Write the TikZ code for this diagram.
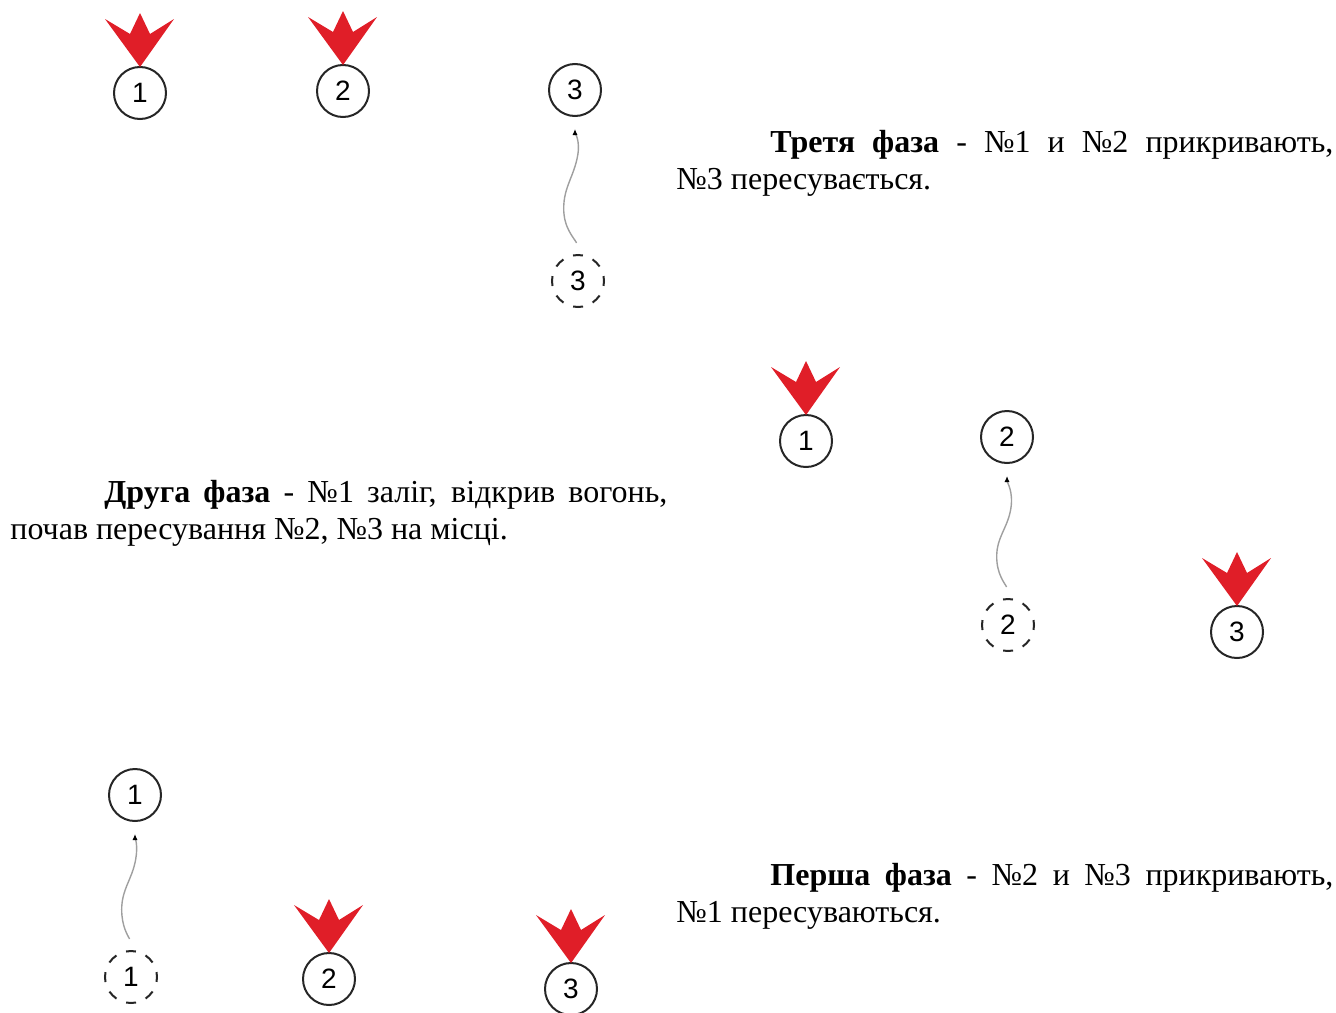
\documentclass[tikz,border=0pt]{standalone}
\usepackage{fontspec}
\setmainfont{Liberation Serif}
\newfontfamily\numfont{Liberation Sans}
\usetikzlibrary{arrows.meta,calc}
\definecolor{firered}{RGB}{224,30,40}

\tikzset{
  soldier/.style={circle,draw=black!85,line width=1pt,minimum size=26pt,inner sep=0pt,
    font=\numfont\fontsize{14}{14}\selectfont},
  oldpos/.style={soldier,dash pattern=on 5pt off 5.2pt,dash phase=2.5pt},
  move/.style={draw=gray!75,line width=0.7pt,
    -{Latex[length=3pt,width=2.6pt,color=black]},shorten <=6.5pt,shorten >=6pt},
  phase/.style={anchor=base west,inner sep=0pt,text width=328.5pt,align=justify,
    font=\fontsize{16}{18.5}\selectfont},
  fire/.pic={
    \fill[firered] (0,-1) -- (-35,47) -- (-10,32) -- (0,53) -- (10,32) -- (34,47) -- cycle;
  }
}

\begin{document}
\begin{tikzpicture}[x=0.5pt,y=0.5pt]
  \useasboundingbox (0,0) rectangle (1336,-1012);

  % --- Third phase (top) ---
  \node[soldier] (a1) at (140,-93) {1};
  \node[soldier] (a2) at (343,-91) {2};
  \node[soldier] (a3) at (575,-90) {3};
  \node[oldpos]  (a3old) at (578,-281) {3};
  \pic at (a1.north) {fire};
  \pic at (a2.north) {fire};
  \draw[move] (a3old.80) to[out=118,in=-90] ++(-19,46) to[out=90,in=-100] ++(14,53)
    to[out=80,in=-90] (a3);
  \node[phase] (t3) at (676,-152)
    {\hspace*{47pt}\textbf{Третя фаза} - №1 и №2 прикривають,\linebreak №3 пересувається.};

  % --- Second phase (middle) ---
  \node[soldier] (b1) at (806,-441) {1};
  \node[soldier] (b2) at (1007,-437) {2};
  \node[oldpos]  (b2old) at (1008,-625) {2};
  \node[soldier] (b3) at (1237,-632) {3};
  \pic at (b1.north) {fire};
  \pic at (b3.north) {fire};
  \draw[move] (b2old.80) to[out=118,in=-90] ++(-16,42) to[out=90,in=-100] ++(14,47)
    to[out=80,in=-90] (b2);
  \node[phase] (t2) at (10,-502)
    {\hspace*{47pt}\textbf{Друга фаза} - №1 заліг, відкрив вогонь,\linebreak почав пересування №2, №3 на місці.};

  % --- First phase (bottom) ---
  \node[soldier] (c1) at (135,-795) {1};
  \node[oldpos]  (c1old) at (131,-977) {1};
  \node[soldier] (c2) at (329,-979) {2};
  \node[soldier] (c3) at (571,-989) {3};
  \pic at (c2.north) {fire};
  \pic at (c3.north) {fire};
  \draw[move] (c1old.80) to[out=118,in=-90] ++(-14,41) to[out=90,in=-100] ++(14,50)
    to[out=80,in=-90] (c1);
  \node[phase] (t1) at (676,-885)
    {\hspace*{47pt}\textbf{Перша фаза} - №2 и №3 прикривають,\linebreak №1 пересуваються.};
\end{tikzpicture}
\end{document}
